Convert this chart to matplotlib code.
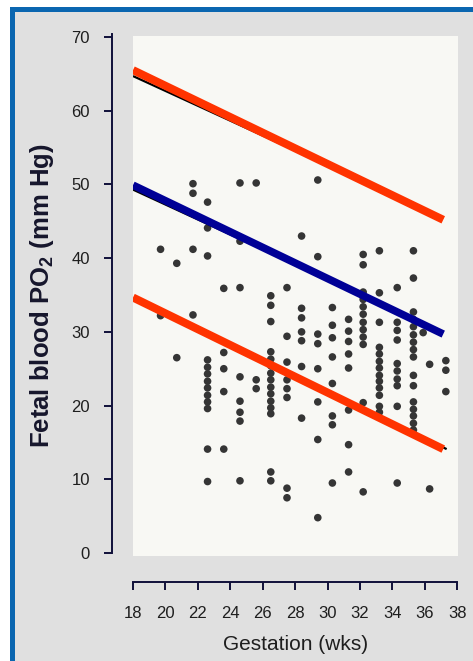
import matplotlib
matplotlib.use('Agg')
import matplotlib.pyplot as plt
from matplotlib.patches import Rectangle

# Data: gestation (wks) columns and PO2 values (mm Hg)
col_weeks = [19.7, 20.7, 21.7, 22.6, 23.6, 24.6, 25.6, 26.5, 27.5, 28.4,
             29.4, 30.3, 31.3, 32.2, 33.2, 34.3, 35.3, 35.9, 36.3, 37.3]
col_po2 = [
    [41.2, 32.2],
    [39.3, 26.5],
    [50.1, 48.8, 41.2, 32.3],
    [47.6, 44.1, 40.3, 26.2, 25.2, 24.3, 23.3, 22.4, 21.4, 20.5, 19.6, 14.1, 9.7],
    [35.9, 27.2, 25.0, 21.9, 14.1],
    [50.2, 42.3, 36.0, 23.9, 20.6, 19.1, 17.9, 9.8],
    [50.2, 23.5, 22.3],
    [34.9, 33.6, 31.4, 27.3, 26.3, 25.4, 24.4, 23.5, 22.5, 21.6, 20.6, 19.7, 18.9, 11.0, 9.8],
    [36.0, 29.4, 25.9, 23.5, 22.3, 21.1, 8.8, 7.5],
    [43.0, 33.2, 31.9, 30.0, 28.8, 25.3, 18.3],
    [50.6, 40.2, 29.7, 28.4, 25.0, 20.5, 15.4, 4.8],
    [33.3, 30.9, 29.2, 26.6, 23.0, 18.6, 17.4, 9.5],
    [31.7, 30.1, 28.7, 27.0, 25.1, 19.4, 14.7, 11.0],
    [40.5, 39.1, 35.4, 34.4, 33.4, 32.4, 31.3, 30.3, 29.3, 28.3, 20.4, 8.3],
    [41.0, 35.3, 31.3, 27.9, 27.0, 26.0, 25.1, 24.1, 23.3, 22.4, 21.4, 19.9, 19.1],
    [36.0, 31.3, 30.2, 28.9, 25.7, 24.7, 23.6, 22.7, 19.9, 9.5],
    [41.0, 37.3, 32.7, 31.7, 30.7, 29.6, 28.6, 27.6, 26.6, 24.1, 22.7,
     20.5, 19.5, 18.6, 17.6, 16.7],
    [29.9],
    [25.6, 8.7],
    [26.1, 24.8, 21.9],
]

# Fitted lines (end points in data units): upper / mean / lower
fit_x = [18.0, 37.14]
upper_fit = [65.5, 45.2]
mean_fit = [49.9, 29.7]
lower_fit = [34.66, 14.1]
# original black print lines visible under the coloured ones
upper_black = [64.7, 45.4]
mean_black = [49.3, 29.9]
lower_fit_x_black = [18.0, 37.35]
lower_black = [34.4, 14.1]

x_ticks = [18, 20, 22, 24, 26, 28, 30, 32, 34, 36, 38]
y_ticks = [0, 10, 20, 30, 40, 50, 60, 70]

plt.rcParams['font.family'] = ['Liberation Sans', 'DejaVu Sans']
plt.rcParams['mathtext.fontset'] = 'custom'
plt.rcParams['mathtext.rm'] = 'Liberation Sans'
plt.rcParams['mathtext.bf'] = 'Liberation Sans:bold'

W, H = 473, 661
fig = plt.figure(figsize=(W / 100, H / 100), dpi=100)
fig.patch.set_facecolor('white')

# Slide frame: blue border on top/left, grey panel
fig.patches.append(Rectangle((10 / W, 0), 1, (H - 7) / H, transform=fig.transFigure,
                             facecolor='#0a66b0', edgecolor='none', zorder=-10))
fig.patches.append(Rectangle((15 / W, 0), 1, (H - 12) / H, transform=fig.transFigure,
                             facecolor='#e0e0e0', edgecolor='none', zorder=-9))

ax = fig.add_axes([133 / W, (H - 556) / H, 325 / W, 520.5 / H])
ax.set_facecolor('#f8f8f4')

# Scatter points
xs, ys = [], []
for wk, vals in zip(col_weeks, col_po2):
    for v in vals:
        xs.append(wk)
        ys.append(v)
ax.scatter(xs, ys, s=30, color='#353535', edgecolors='none', zorder=3)

# Lines: black originals first, then coloured overlays
ax.plot(fit_x, upper_black, color='black', lw=1.6, solid_capstyle='butt', zorder=4)
ax.plot(fit_x, mean_black, color='black', lw=1.6, solid_capstyle='butt', zorder=4)
ax.plot(lower_fit_x_black, lower_black, color='black', lw=1.6, solid_capstyle='butt', zorder=4)
ax.plot(fit_x, upper_fit, color='#ff3300', lw=5.8, solid_capstyle='butt', zorder=5)
ax.plot(fit_x, mean_fit, color='#000096', lw=5.5, solid_capstyle='butt', zorder=5)
ax.plot(fit_x, lower_fit, color='#ff3300', lw=5.8, solid_capstyle='butt', zorder=5)

ax.set_xlim(18, 38.05)
ax.set_ylim(-0.4, 70.2)

# Detached axes like the original slide
spine_col = '#10103a'
ax.spines['top'].set_visible(False)
ax.spines['right'].set_visible(False)
ax.spines['left'].set_position(('outward', 15))
ax.spines['bottom'].set_position(('outward', 18.7))
ax.spines['left'].set_bounds(0, 70.4)
ax.spines['bottom'].set_bounds(18, 38)
for s in ('left', 'bottom'):
    ax.spines[s].set_color(spine_col)
    ax.spines[s].set_linewidth(1.4)

ax.set_xticks(x_ticks)
ax.set_yticks(y_ticks)
ax.tick_params(axis='y', direction='out', length=5.5, width=1.4, color=spine_col,
               pad=10.4, labelsize=12, labelcolor='#1e1e1e')
ax.tick_params(axis='x', direction='out', length=5.8, width=1.4, color=spine_col,
               pad=11.5, labelsize=12, labelcolor='#1e1e1e')

ax.set_xlabel('Gestation (wks)', fontsize=15, color='#1e1e1e', labelpad=10)
ax.set_ylabel(r'Fetal blood PO$_\mathbf{2}$ (mm Hg)', fontsize=18.5,
              fontweight='bold', color='#16162c')
ax.yaxis.set_label_coords(-0.238, 0.5)

fig.savefig('out.png', dpi=100, facecolor=fig.get_facecolor())
